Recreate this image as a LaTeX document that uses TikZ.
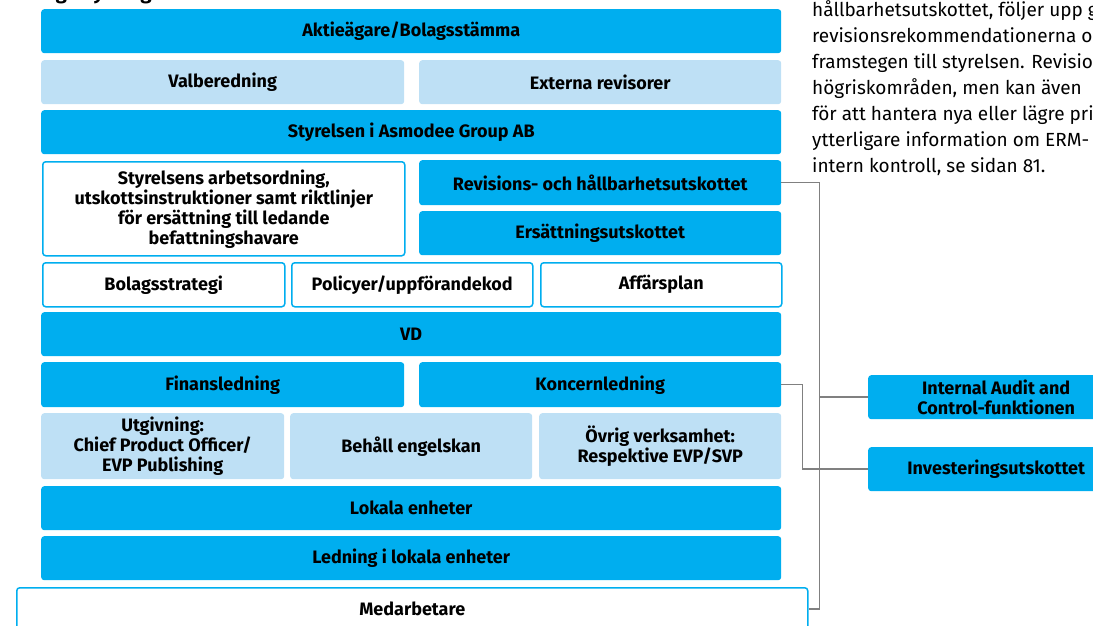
\documentclass[tikz,border=0pt]{standalone}
\usepackage{fontspec}
\setmainfont{Fira Sans}
\definecolor{asmblue}{RGB}{0,174,239}
\definecolor{asmlight}{RGB}{190,224,245}
\definecolor{connGray}{RGB}{128,128,128}
\begin{document}
\begin{tikzpicture}[x=1pt, y=-1pt,
    box/.style={anchor=north west, rounded corners=3pt, inner sep=0pt, align=center,
      font=\bfseries\fontsize{18}{20}\selectfont},
    dark/.style={box, fill=asmblue},
    light/.style={box, fill=asmlight},
    open/.style={box, fill=white, draw=asmblue, line width=1.5pt},
    conn/.style={draw=connGray, line width=1.5pt}]
  \useasboundingbox (0,0) rectangle (1093,626);
  \node[anchor=base west, inner sep=0pt, font=\bfseries\fontsize{20}{24}\selectfont] (rubrik) at (15,0) {Bolagsstyrningsmodell};
  \node[anchor=base west, inner sep=0pt, align=left, font=\fontsize{19}{26}\selectfont] (brodtext) at (812,172)
    {hållbarhetsutskottet, följer upp g\\
     revisionsrekommendationerna o\\
     framstegen till styrelsen. Revisio\\
     högriskområden, men kan även\\
     för att hantera nya eller lägre pri\\
     ytterligare information om ERM-\\
     intern kontroll, se sidan 81.};
  % styrelse
  \node[dark, minimum width=740pt, minimum height=44pt] (aktie) at (41,9) {Aktieägare/Bolagsstämma};
  \node[light, minimum width=363pt, minimum height=44pt] (valb) at (41,60) {Valberedning};
  \node[light, minimum width=362pt, minimum height=44pt] (extrev) at (419,60) {Externa revisorer};
  \node[dark, minimum width=740pt, minimum height=44pt] (styr) at (41,110) {Styrelsen i Asmodee Group AB};
  \node[open, minimum width=362pt, minimum height=94pt] (arbord) at (42,161)
    {Styrelsens arbetsordning,\\ utskottsinstruktioner samt riktlinjer\\ för ersättning till ledande\\ befattningshavare};
  \node[dark, minimum width=362pt, minimum height=45pt] (revis) at (419,160) {Revisions- och hållbarhetsutskottet};
  \node[dark, minimum width=362pt, minimum height=44pt] (ersutsk) at (419,211) {Ersättningsutskottet};
  \node[open, minimum width=242pt, minimum height=44pt] (strategi) at (42,262) {Bolagsstrategi};
  \node[open, minimum width=241pt, minimum height=44pt] (policy) at (291,262) {Policyer/uppförandekod};
  \node[open, minimum width=241pt, minimum height=44pt] (affplan) at (540,262) {Affärsplan};
  % ledning
  \node[dark, minimum width=740pt, minimum height=44pt] (vd) at (41,312) {VD};
  \node[dark, minimum width=363pt, minimum height=45pt] (finans) at (41,362) {Finansledning};
  \node[dark, minimum width=362pt, minimum height=45pt] (koncern) at (419,362) {Koncernledning};
  \node[light, minimum width=243pt, minimum height=66pt] (utgiv) at (41,413) {Utgivning:\\ Chief Product Officer/\\ EVP Publishing};
  \node[light, minimum width=242pt, minimum height=66pt] (behall) at (290,413) {Behåll engelskan};
  \node[light, minimum width=242pt, minimum height=66pt] (ovrig) at (539,413) {Övrig verksamhet:\\ Respektive EVP/SVP};
  \node[dark, minimum width=740pt, minimum height=44pt] (lokala) at (41,486) {Lokala enheter};
  \node[dark, minimum width=740pt, minimum height=44pt] (lokled) at (41,536) {Ledning i lokala enheter};
  \node[open, minimum width=791pt, minimum height=42pt] (medarb) at (16,587) {Medarbetare};
  % sidofunktioner
  \node[dark, minimum width=256pt, minimum height=44pt] (audit) at (868,375) {Internal Audit and\\ Control-funktionen};
  \node[dark, minimum width=256pt, minimum height=44pt] (invest) at (868,447) {Investeringsutskottet};
  % linjer
  \draw[conn] (revis.east) -- ++(38,0) coordinate (knut) |- (medarb.east);
  \draw[conn] (knut |- audit.west) -- (audit.west);
  \draw[conn] (koncern.east) -- ++(21,0) |- (invest.west);
\end{tikzpicture}
\end{document}
